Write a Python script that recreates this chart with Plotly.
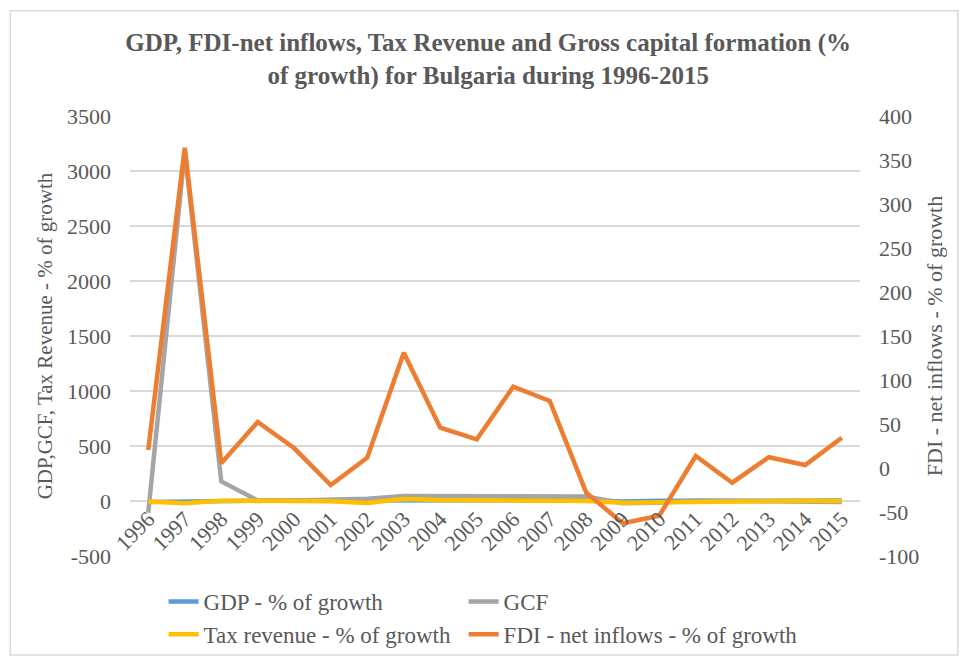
import plotly.graph_objects as go

# Annual growth rates (%) for Bulgaria, 1996-2015
years = [str(y) for y in range(1996, 2016)]
gdp_growth = [-9.4, -5.4, 3.5, 2.3, 5.0, 4.2, 6.0, 5.1, 6.6, 7.2,
              6.9, 7.3, 6.0, -3.6, 1.3, 1.9, 0.0, 0.5, 1.8, 3.6]
gcf_growth = [-106, 3180, 178, 5, 5, 12, 20, 45, 45, 42,
              44, 44, 42, -20, -15, 5, 3, 2, 0, -10]
tax_growth = [-5, -20, 3, 2, 0, -2, -18, 18, 8, 5,
              7, 8, 0, -15, -12, 0, 3, 5, 2, 0]
fdi_growth = [20.5, 364, 5.3, 52.3, 22.4, -19.3, 11.7, 131, 45.8, 32.6,
              92.4, 76.1, -28, -62.8, -54.2, 13.6, -16.7, 12.2, 3.4, 34.4]

left_ticks = [-500, 0, 500, 1000, 1500, 2000, 2500, 3000, 3500]
right_ticks = [-100, -50, 0, 50, 100, 150, 200, 250, 300, 350, 400]

FONT = "Liberation Serif, Times New Roman, serif"
GREY_TXT = "#595959"
GRID = "#D9D9D9"
LW = 4.5


def labels(vals):
    # plain hyphen for negatives, as in spreadsheet charts
    return [str(v) for v in vals]


fig = go.Figure()
fig.add_trace(go.Scatter(x=years, y=gdp_growth, name="GDP - % of growth",
                         mode="lines", line=dict(color="#5B9BD5", width=LW),
                         legend="legend"))
fig.add_trace(go.Scatter(x=years, y=gcf_growth, name="GCF",
                         mode="lines", line=dict(color="#A5A5A5", width=LW),
                         legend="legend2"))
fig.add_trace(go.Scatter(x=years, y=tax_growth, name="Tax revenue - % of growth",
                         mode="lines", line=dict(color="#FFC000", width=LW),
                         legend="legend"))
fig.add_trace(go.Scatter(x=years, y=fdi_growth, name="FDI - net inflows - % of growth",
                         mode="lines", line=dict(color="#ED7D31", width=LW),
                         yaxis="y2", legend="legend2"))

# outer chart frame
fig.add_shape(type="rect", xref="paper", yref="paper",
              x0=-0.164, x1=1.134, y0=-0.225, y1=1.239,
              line=dict(color="#D9D9D9", width=1.5), fillcolor="rgba(0,0,0,0)",
              layer="below")

legend_style = dict(
    orientation="v", xanchor="left",
    y=1 - 580 / 659, yref="container", yanchor="top",
    font=dict(size=23, color=GREY_TXT), bgcolor="rgba(0,0,0,0)",
    traceorder="normal", tracegroupgap=0,
)

fig.update_layout(
    width=961, height=659,
    margin=dict(l=130, r=101, t=116, b=103),
    paper_bgcolor="white", plot_bgcolor="white",
    font=dict(family=FONT, color=GREY_TXT, size=22),
    title=dict(
        text="<b>GDP, FDI-net inflows, Tax Revenue and Gross capital formation (%<br>of growth) for Bulgaria during 1996-2015</b>",
        x=0.508, xref="container", xanchor="center",
        y=1 - 51 / 659, yref="container", yanchor="top",
        font=dict(family=FONT, size=25, color=GREY_TXT),
    ),
    xaxis=dict(
        type="category", range=[-0.5, 19.5],
        anchor="free", position=55 / 440, automargin=False,
        showgrid=False, showline=False, zeroline=False,
        tickangle=-45, ticks="", tickfont=dict(size=22),
    ),
    yaxis=dict(
        range=[-500, 3500], tickvals=left_ticks, ticktext=labels(left_ticks),
        showgrid=True, gridcolor=GRID, gridwidth=1.5,
        zeroline=True, zerolinecolor=GRID, zerolinewidth=1.5,
        showline=False, ticks="", ticklabelstandoff=18, automargin=False,
        tickfont=dict(size=22),
        title=dict(text="GDP,GCF, Tax Revenue - % of growth", standoff=8,
                   font=dict(size=21)),
    ),
    yaxis2=dict(
        range=[-100, 400], tickvals=right_ticks, ticktext=labels(right_ticks),
        overlaying="y", side="right", automargin=False,
        showgrid=False, zeroline=False, showline=False, ticks="",
        ticklabelstandoff=18, tickfont=dict(size=22),
        title=dict(text="FDI - net inflows - % of growth", standoff=8,
                   font=dict(size=22)),
    ),
    legend=dict(x=0.046, **legend_style),
    legend2=dict(x=0.457, **legend_style),
    showlegend=True,
)

fig.write_html("out.html")
